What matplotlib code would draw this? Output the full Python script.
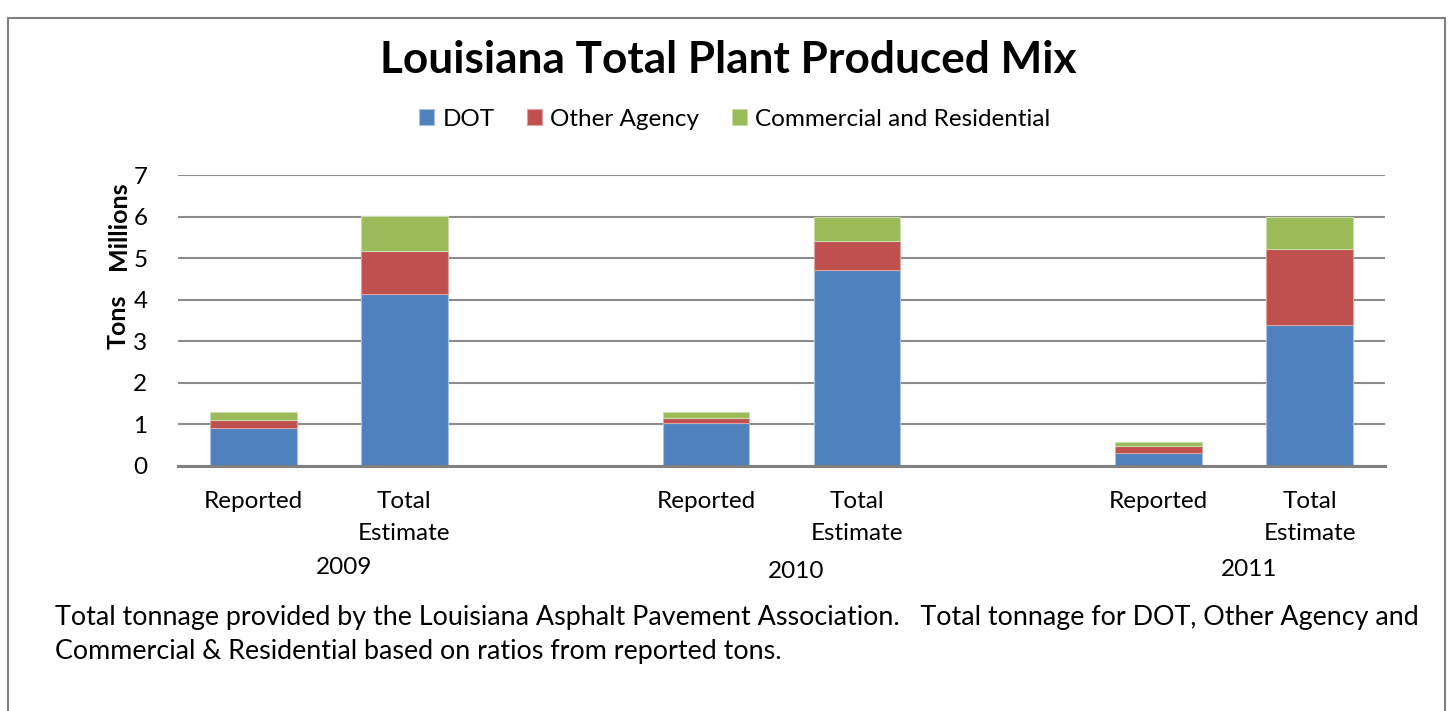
import matplotlib.pyplot as plt
from matplotlib.patches import Rectangle
from matplotlib.transforms import blended_transform_factory
import numpy as np

plt.rcParams['font.family'] = ['Lato', 'DejaVu Sans']

# data (millions of tons)
years = ["2009", "2010", "2011"]
bar_labels = ["Reported", "Total\nEstimate"]
dot = [0.91, 4.14, 1.03, 4.71, 0.31, 3.39]
other = [0.20, 1.03, 0.12, 0.70, 0.17, 1.83]
comm = [0.19, 0.84, 0.15, 0.59, 0.10, 0.78]

colors = ["#4F81BD", "#C0504D", "#9BBB59"]
names = ["DOT", "Other Agency", "Commercial and Residential"]

W, H = 1453, 711
fig = plt.figure(figsize=(W / 100, H / 100), dpi=100)
ax = fig.add_axes([178 / W, 1 - 466 / H, (1385 - 178) / W, (466 - 175) / H])

# each year takes 3 slots: Reported, Total Estimate, gap
x = np.array([3 * g + j for g in range(len(years)) for j in range(2)])
dot = np.array(dot)
other = np.array(other)
comm = np.array(comm)

bw = 0.575
ax.bar(x, dot, bw, color=colors[0], edgecolor="#a9c0de", linewidth=0.8, label=names[0], zorder=3)
ax.bar(x, other, bw, bottom=dot, color=colors[1], edgecolor="#dca3a1", linewidth=0.8, label=names[1], zorder=3)
ax.bar(x, comm, bw, bottom=dot + other, color=colors[2], edgecolor="#c9dbab", linewidth=0.8, label=names[2], zorder=3)

ax.set_xlim(-0.5, 7.5)
ax.set_ylim(0, 7)
ax.set_yticks(range(8))
ax.yaxis.grid(True, color="#8c8c8c", linewidth=1.5)
ax.set_axisbelow(True)
for s in ["top", "right", "left"]:
    ax.spines[s].set_visible(False)
ax.spines["bottom"].set_color("#808080")
ax.spines["bottom"].set_linewidth(2.2)
ax.spines["bottom"].set_zorder(4)
ax.tick_params(axis="y", length=0, pad=22, labelsize=17.5)
ax.tick_params(axis="x", length=0, pad=18, labelsize=17.5)
ax.set_xticks(x)
ax.set_xticklabels(bar_labels * len(years), linespacing=1.65)

trans = blended_transform_factory(ax.transData, fig.transFigure)
year_y = [568, 572, 570]
for g, yr in enumerate(years):
    ax.text(3 * g + 0.6, 1 - year_y[g] / H, yr, transform=trans, ha="center", va="center", fontsize=17.5)

fig.text(118 / W, 1 - 322 / H, "Tons", rotation=90, ha="center", va="center", fontsize=18, fontweight="bold")
fig.text(118 / W, 1 - 226 / H, "Millions", rotation=90, ha="center", va="center", fontsize=18, fontweight="bold")

fig.text(728 / W, 1 - 60 / H, "Louisiana Total Plant Produced Mix", ha="center", va="center",
         fontsize=31.8, fontweight="bold")

fig.legend(loc="center", bbox_to_anchor=(735 / W, 1 - 119 / H), ncol=3, frameon=False,
           fontsize=17.5, handlelength=0.6, handleheight=0.6, handletextpad=0.35, columnspacing=1.35)

fig.text(55 / W, 1 - 617 / H,
         "Total tonnage provided by the Louisiana Asphalt Pavement Association.   Total tonnage for DOT, Other Agency and",
         ha="left", va="center", fontsize=19.4)
fig.text(55 / W, 1 - 652 / H, "Commercial & Residential based on ratios from reported tons.",
         ha="left", va="center", fontsize=19.4)

# outer frame
fig.patches.append(Rectangle((8 / W, -0.1), (1445 - 8) / W, 1.1 - 18 / H, transform=fig.transFigure,
                             fill=False, edgecolor="#808080", linewidth=1.5))

fig.savefig("out.png", dpi=100)
